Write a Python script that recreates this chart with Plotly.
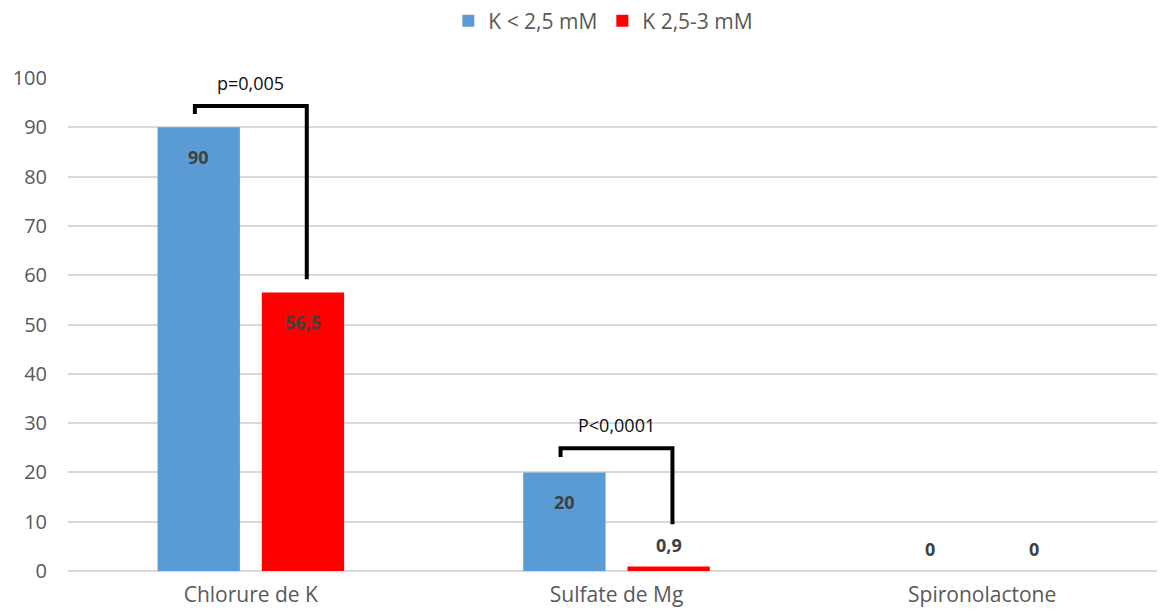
import plotly.graph_objects as go

categories = ["Chlorure de K", "Sulfate de Mg", "Spironolactone"]
series_names = ["K < 2,5 mM", "K 2,5-3 mM"]
values_low = [90, 20, 0]
values_mid = [56.5, 0.9, 0]
colors = ["#5B9BD5", "#FF0000"]
y_ticks = [0, 10, 20, 30, 40, 50, 60, 70, 80, 90, 100]

# significance brackets: (category index, left tip y, top y, right bottom y, label)
brackets = [
    (0, 92.7, 94.3, 59.2, "p=0,005"),
    (1, 23.1, 24.9, 9.5, "P<0,0001"),
]

FONT = "Open Sans"
fig = go.Figure()
series = [values_low, values_mid]
for name, vals, col in zip(series_names, series, colors):
    fig.add_trace(go.Bar(x=categories, y=vals, name=name, marker_color=col,
                         marker_line_width=0))

offset = 0.1425
for si, vals in enumerate(series):
    dx = -offset if si == 0 else offset
    for ci, v in enumerate(vals):
        txt = (f"{v:g}").replace(".", ",")
        fig.add_annotation(x=ci + dx, y=v, xref="x", yref="y", text=f"<b>{txt}</b>",
                           showarrow=False, yshift=-30 if v > 5 else 22,
                           font=dict(family=FONT, size=18, color="#404040"))

for ci, yl, yt, yr, lab in brackets:
    xl, xr = ci - 0.153, ci + 0.153
    fig.add_shape(type="path", xref="x", yref="y",
                  path=f"M {xl} {yl} L {xl} {yt} L {xr} {yt} L {xr} {yr}",
                  line=dict(color="black", width=4))
    fig.add_annotation(x=ci, y=yt, xref="x", yref="y", text=lab, showarrow=False,
                       yshift=23, font=dict(family=FONT, size=18, color="#0d0d0d"))

fig.update_layout(
    width=1157, height=605,
    margin=dict(l=60, r=0, t=70, b=42, autoexpand=False),
    plot_bgcolor="white", paper_bgcolor="white",
    barmode="group", bargap=0.43, bargroupgap=0.21,
    font=dict(family=FONT, color="#595959"),
    legend=dict(orientation="h", x=0.488, xanchor="center", y=1.157, yanchor="top",
                font=dict(size=21, color="#595959"), traceorder="normal",
                itemwidth=30, bgcolor="rgba(0,0,0,0)"),
    showlegend=True,
)
fig.update_xaxes(showgrid=False, ticks="", tickfont=dict(size=21, color="#595959"),
                 showline=False, automargin=False, ticklabelstandoff=9)
fig.update_yaxes(range=[0, 100], tickvals=y_ticks, showgrid=True, gridcolor="#D9D9D9",
                 gridwidth=1.5, zeroline=True, zerolinecolor="#D9D9D9", zerolinewidth=1.5,
                 tickfont=dict(size=20, color="#595959"), ticklabelstandoff=20,
                 automargin=False)

fig.write_html("out.html")
